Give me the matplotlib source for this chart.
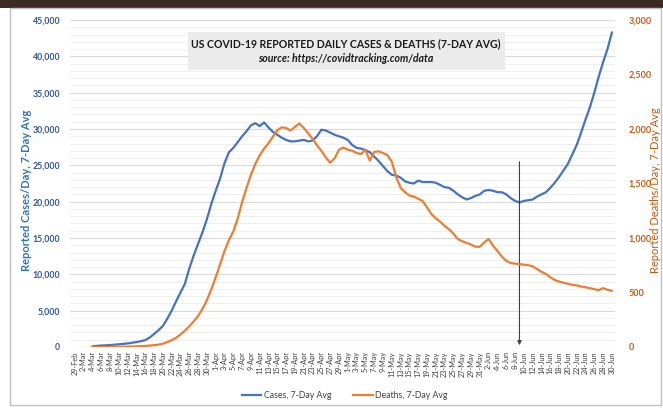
import matplotlib
matplotlib.use("Agg")
import matplotlib.pyplot as plt
from matplotlib.patches import Rectangle
from matplotlib.lines import Line2D
from matplotlib.ticker import FuncFormatter, MultipleLocator
import numpy as np
import pandas as pd

plt.rcParams["font.family"] = ["Lato", "DejaVu Sans"]

# Category axis: one entry per day, labelled every second day
dates = pd.date_range("2020-02-29", "2020-06-30", freq="D")
date_labels = [f"{d.day}-{d.strftime('%b')}" for d in dates]

# Both series begin on 4-Mar (index 4 of the date axis)
series_start = 4

cases_7day = [
    100, 150, 200, 230, 270, 320, 370, 430, 500, 580,
    680, 800, 950, 1300, 1800, 2300, 2900, 3900, 5000, 6300,
    7500, 8700, 10800, 12600, 14200, 15800, 17600, 19700, 21500, 23200,
    25300, 26800, 27400, 28200, 29000, 29700, 30500, 30800, 30400, 30900,
    30200, 29600, 29200, 28800, 28500, 28300, 28300, 28400, 28500, 28300,
    28400, 29000, 29900, 29800, 29500, 29200, 29000, 28800, 28500, 27800,
    27400, 27300, 27100, 26800, 26200, 25600, 24900, 24200, 23700, 23600,
    23300, 22800, 22600, 22500, 22900, 22700, 22700, 22700, 22600, 22300,
    22000, 21900, 21500, 21000, 20600, 20300, 20500, 20800, 21000, 21500,
    21600, 21500, 21300, 21300, 21000, 20500, 20100, 19900, 20100, 20200,
    20300, 20700, 21000, 21300, 21900, 22600, 23400, 24300, 25200, 26500,
    27800, 29500, 31300, 33000, 35000, 37200, 39200, 41000, 43300,
]

deaths_7day = [
    0, 0, 0, 1, 1, 2, 2, 3, 4, 5,
    6, 8, 10, 13, 17, 22, 30, 45, 62, 85,
    115, 150, 190, 235, 285, 350, 430, 530, 640, 760,
    880, 980, 1060, 1180, 1330, 1460, 1580, 1680, 1760, 1820,
    1870, 1930, 1990, 2015, 2010, 1985, 2020, 2050, 2010, 1960,
    1910, 1850, 1800, 1740, 1690, 1730, 1810, 1830, 1810, 1800,
    1780, 1770, 1810, 1710, 1790, 1795, 1780, 1760, 1700, 1560,
    1460, 1420, 1390, 1380, 1360, 1340, 1280, 1220, 1180, 1150,
    1110, 1080, 1040, 990, 970, 955, 940, 920, 920, 960,
    990, 930, 880, 830, 790, 770, 765, 760, 755, 750,
    740, 715, 690, 670, 640, 615, 600, 590, 580, 570,
    565, 555, 548, 540, 530, 522, 540, 525, 515,
]

marker_day = "9-Jun"

BLUE = "#4472c4"
ORANGE = "#ed7d31"
LEFT_TXT = "#2f5496"
LEFT_LBL = "#2e75b6"
RIGHT_TXT = "#c55a11"

fig = plt.figure(figsize=(6.63, 4.08), dpi=100)
W, H = 663, 408

def fx(px):
    return px / W

def fy(py):
    return 1 - py / H

# Slide frame: dark band on top, thin grey border
fig.patches.append(Rectangle((0, fy(8)), 1, 8 / H, transform=fig.transFigure,
                             facecolor="#3b2a26", edgecolor="none", zorder=0))
fig.patches.append(Rectangle((fx(10), fy(405)), fx(651), (405 - 8) / H,
                             transform=fig.transFigure, facecolor="none",
                             edgecolor="#bfbfbf", lw=1.0, zorder=0))

ax_left, ax_right, ax_top, ax_bottom = 70, 615, 20, 347
ax = fig.add_axes([fx(ax_left), fy(ax_bottom), fx(ax_right - ax_left),
                   (ax_bottom - ax_top) / H])
ax2 = ax.twinx()

x = np.arange(series_start, series_start + len(cases_7day))
ax.plot(x, cases_7day, color=BLUE, lw=1.6, zorder=3, solid_capstyle="round")
ax2.plot(x, deaths_7day, color=ORANGE, lw=1.6, zorder=3, solid_capstyle="round")

ax.set_xlim(-1.1, len(dates) - 0.3)
ax.set_ylim(0, 45000)
ax2.set_ylim(0, 3000)

# Gridlines: major every 5,000, minor every 1,000
ax.yaxis.set_major_locator(MultipleLocator(5000))
ax.yaxis.set_minor_locator(MultipleLocator(1000))
ax.grid(which="major", axis="y", color="#d9d9d9", lw=0.8, zorder=0)
ax.grid(which="minor", axis="y", color="#efefef", lw=0.7, zorder=0)
ax.set_axisbelow(True)
ax2.yaxis.set_major_locator(MultipleLocator(500))

fmt = FuncFormatter(lambda v, p: f"{int(v):,}")
ax.yaxis.set_major_formatter(fmt)
ax2.yaxis.set_major_formatter(fmt)

for a in (ax, ax2):
    for s in a.spines.values():
        s.set_visible(False)

ax.tick_params(axis="y", which="both", length=0, pad=7, labelsize=6.3,
               labelcolor=LEFT_TXT)
for t in ax.get_yticklabels():
    t.set_fontweight("bold")
ax2.tick_params(axis="y", which="both", length=0, pad=10, labelsize=6.5,
                labelcolor=RIGHT_TXT)
for t in ax2.get_yticklabels():
    t.set_fontweight("bold")

tick_idx = np.arange(0, len(dates), 2)
ax.set_xticks(tick_idx)
ax.set_xticklabels([date_labels[i] for i in tick_idx], rotation=90,
                   fontsize=5.3, color="#404040")
ax.tick_params(axis="x", length=0, pad=3)

span = ax_right - ax_left
ax.set_ylabel("Reported Cases/Day, 7-Day Avg", color=LEFT_LBL, fontsize=8,
              fontweight="bold")
ax.yaxis.set_label_coords((32 - ax_left) / span, 0.48)
ax2.set_ylabel("Reported Deaths/Day, 7-Day Avg", color=RIGHT_TXT, fontsize=8,
               rotation=90)
ax2.yaxis.set_label_coords((650 - ax_left) / span, 0.48)

# Arrow marking the cases minimum
mi = date_labels.index(marker_day)
ax.annotate("", xy=(mi, 250), xytext=(mi, 25500),
            arrowprops=dict(arrowstyle="-|>", color="#404040", lw=0.8,
                            mutation_scale=6, shrinkA=0, shrinkB=0), zorder=4)

# Title box
fig.patches.append(Rectangle((fx(188), fy(70)), fx(505 - 188), 38 / H,
                             transform=fig.transFigure, facecolor="#ebebeb",
                             edgecolor="none", zorder=5))
fig.text(fx(346), fy(44), "US COVID-19 REPORTED DAILY CASES & DEATHS (7-DAY AVG)",
         ha="center", va="center", fontsize=7.6, fontweight="bold",
         color="#1a1a1a", zorder=6)
fig.text(fx(346), fy(58), "source: https://covidtracking.com/data",
         ha="center", va="center", fontsize=7.6, fontweight="bold",
         style="italic", color="#1a1a1a", zorder=6)

handles = [Line2D([], [], color=BLUE, lw=1.6), Line2D([], [], color=ORANGE, lw=1.6)]
fig.legend(handles, ["Cases, 7-Day Avg", "Deaths, 7-Day Avg"],
           loc="center", bbox_to_anchor=(fx(345), fy(396)), ncol=2,
           frameon=False, fontsize=6.3, handlelength=2.2, handletextpad=0.3,
           columnspacing=2.5, labelcolor="#404040")

fig.savefig("out.png", dpi=100)
